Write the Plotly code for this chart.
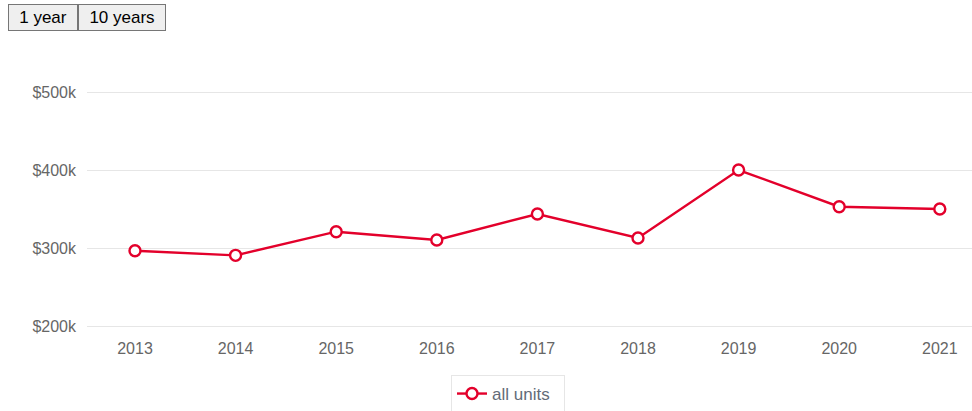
import plotly.graph_objects as go

years = ["2013", "2014", "2015", "2016", "2017", "2018", "2019", "2020", "2021"]
values = [296500, 290600, 320900, 310300, 343600, 312800, 400000, 352900, 350000]
series_name = "all units"
y_ticks = [200000, 300000, 400000, 500000]
button_labels = ["1 year", "10 years"]

RED = "#e3002b"
FONT = "Arial, Liberation Sans, sans-serif"
W, H = 972, 411
grid_top, grid_bot = 92, 326
edge = 3
ml, mr = 87, 0
mt, mb = grid_top - edge, H - grid_bot - edge
pw, ph = W - ml - mr, H - mt - mb
pad_val = edge * 300000 / (grid_bot - grid_top)

fig = go.Figure()
fig.add_trace(go.Scatter(
    x=years, y=values, name=series_name, mode="lines+markers",
    line=dict(color=RED, width=2.4),
    marker=dict(size=11, color="white", line=dict(color=RED, width=2.4)),
))


def px_x(p):
    return (p - ml) / pw


def px_y(p):
    return (H - mb - p) / ph


# HTML-style buttons above the chart
btn_boxes = [(7.5, 77), (77.5, 166)]
for lbl, (x0, x1) in zip(button_labels, btn_boxes):
    fig.add_annotation(
        text=lbl, xref="paper", yref="paper",
        x=px_x(x0), xanchor="left", y=px_y(3.5), yanchor="top",
        showarrow=False, width=round(x1 - x0 - 4), height=23, align="center",
        valign="middle", bgcolor="#efefef", bordercolor="#767676",
        borderwidth=1, borderpad=1,
        font=dict(size=17, color="black", family=FONT),
    )

fig.update_layout(
    width=W, height=H,
    margin=dict(l=ml, r=mr, t=mt, b=mb, autoexpand=False),
    paper_bgcolor="white", plot_bgcolor="white",
    font=dict(family=FONT, color="#666666", size=16),
    xaxis=dict(type="category", range=[-0.477, 8.32], showgrid=False, zeroline=False,
               showline=False, ticks="", ticklabelstandoff=8,
               tickfont=dict(size=16, color="#666666")),
    yaxis=dict(range=[200000 - pad_val, 500000 + pad_val], tickvals=y_ticks,
               ticktext=["$%dk" % (v // 1000) for v in y_ticks],
               showgrid=True, gridcolor="#e6e6e6", gridwidth=1, zeroline=False,
               showline=False, ticks="", ticklabelstandoff=10,
               tickfont=dict(size=16, color="#666666")),
    showlegend=True,
    legend=dict(orientation="h", x=px_x(451), xanchor="left",
                y=px_y(375), yanchor="top", entrywidth=67, entrywidthmode="pixels",
                bordercolor="#e6e6e6", borderwidth=1, bgcolor="white",
                font=dict(size=17, color="#636b78", family=FONT)),
)

fig.write_html("out.html", config={"displayModeBar": False},
               post_script="document.body.style.margin='0';document.body.style.overflow='hidden';")
